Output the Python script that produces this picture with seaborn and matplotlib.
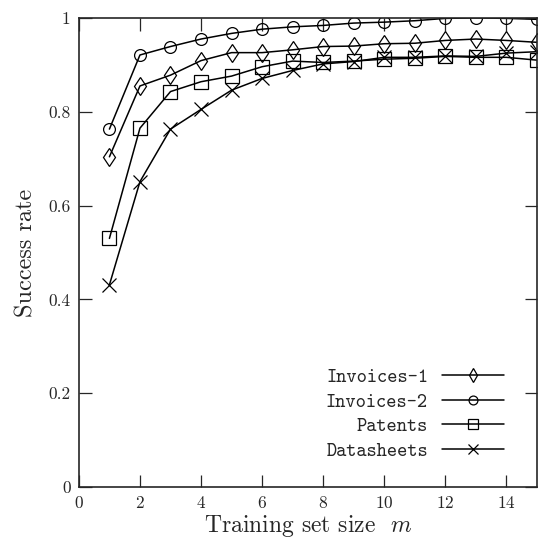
import numpy as np
import pandas as pd
import matplotlib
matplotlib.use("Agg")
import matplotlib.pyplot as plt
import seaborn as sns

# ==================== Data ====================
m = list(range(1, 16))
invoices_1 = [0.704, 0.855, 0.878, 0.909, 0.926, 0.926, 0.932, 0.939, 0.940, 0.945,
              0.946, 0.952, 0.955, 0.952, 0.948]
invoices_2 = [0.763, 0.921, 0.939, 0.955, 0.967, 0.976, 0.981, 0.984, 0.989, 0.991,
              0.994, 0.999, 1.000, 0.999, 0.997]
patents = [0.530, 0.765, 0.843, 0.864, 0.876, 0.896, 0.908, 0.905, 0.908, 0.912,
           0.914, 0.918, 0.916, 0.916, 0.910]
datasheets = [0.431, 0.651, 0.763, 0.805, 0.846, 0.871, 0.888, 0.902, 0.907, 0.916,
              0.916, 0.919, 0.918, 0.925, 0.928]

# name, values, marker, marker size
series = [("Invoices-1", invoices_1, "d", 9.5),
          ("Invoices-2", invoices_2, "o", 8.5),
          ("Patents", patents, "s", 10),
          ("Datasheets", datasheets, "x", 10)]

# ==================== Style ====================
sns.set_style("ticks")
plt.rcParams['font.family'] = ['cmr10', 'DejaVu Serif']
plt.rcParams['mathtext.fontset'] = 'cm'
plt.rcParams['axes.formatter.use_mathtext'] = True
plt.rcParams['axes.unicode_minus'] = False

fig = plt.figure(figsize=(5.44, 5.43), dpi=100)
ax = fig.add_axes([0.145, 0.103, 0.842, 0.864])

for name, vals, mk, ms in series:
    sns.lineplot(x=m, y=vals, ax=ax, color="black", linewidth=1.1,
                 marker=mk, markersize=ms,
                 markerfacecolor="none", markeredgecolor="black",
                 markeredgewidth=0.9, label=name)

ax.set_xlim(0, 15)
ax.set_ylim(0, 1)
ax.set_xticks(range(0, 15, 2))
ax.set_yticks([0, 0.2, 0.4, 0.6, 0.8, 1])
ax.set_yticklabels(["0", "0.2", "0.4", "0.6", "0.8", "1"])
ax.tick_params(direction="in", length=9, width=0.9, labelsize=12.5,
               top=True, right=True, pad=6)
for sp in ax.spines.values():
    sp.set_linewidth(1.2)
    sp.set_visible(True)

ax.set_xlabel(r"Training set size  $m$", fontsize=17, labelpad=1)
ax.set_ylabel("Success rate", fontsize=17.5, labelpad=8)

leg = ax.legend(loc="lower right", bbox_to_anchor=(0.945, 0.04),
                borderaxespad=0, frameon=False, markerfirst=False,
                handlelength=3.2, handletextpad=0.7, labelspacing=0.3,
                markerscale=0.75,
                prop={"family": "cmtt10", "size": 14})

fig.savefig("out.png", dpi=100)
